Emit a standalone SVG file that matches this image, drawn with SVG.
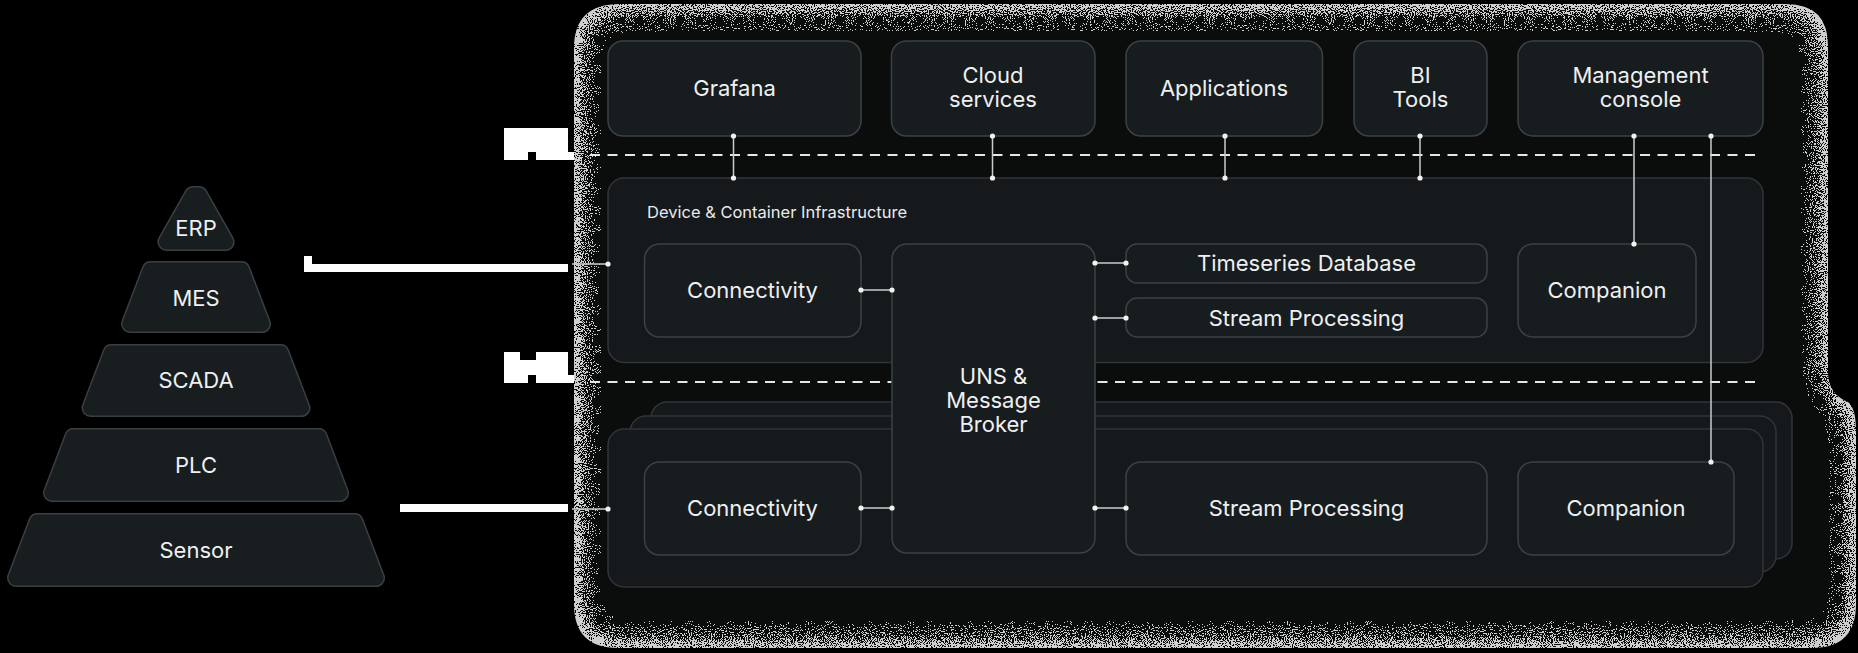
<svg xmlns="http://www.w3.org/2000/svg" width="1858" height="653" viewBox="0 0 1858 653">
<style>
.box{fill:#171c1f;stroke:#3c4144;stroke-width:1.5}
.panel{fill:#15191c;stroke:#30353a;stroke-width:1.5}
.t{font-family:Inter,"Noto Sans","Liberation Sans",sans-serif;font-size:22px;fill:#eef0f1;text-anchor:middle}
.lbl{font-family:Inter,"Noto Sans","Liberation Sans",sans-serif;font-size:16.5px;fill:#e8eaeb}
.conn{stroke:#c9cccd;stroke-width:1.5;fill:none}
.dot{fill:#f2f2f2}
.dash{stroke:#e6e6e6;stroke-width:2;stroke-dasharray:10 7.5;fill:none}
.pb{fill:#3b3f42;stroke:#3b3f42;stroke-width:18;stroke-linejoin:round}
.pf{fill:#181d20;stroke:#181d20;stroke-width:15;stroke-linejoin:round}
.white{fill:#ffffff}
</style>
<defs>
<path id="haloPath" d="M620 4 H1786 Q1828 4 1828 46 V372 Q1828 394 1848 402 Q1856 408 1856 432 V604 Q1856 648 1812 648 H618 Q574 648 574 604 V48 Q574 4 620 4 Z"/>
<filter id="grain" filterUnits="userSpaceOnUse" x="500" y="-80" width="1440" height="810" color-interpolation-filters="sRGB">
<feComponentTransfer in="SourceAlpha" result="out"><feFuncA type="table" tableValues="1 0"/></feComponentTransfer>
<feGaussianBlur in="out" stdDeviation="18" result="bo"/>
<feTurbulence type="fractalNoise" baseFrequency="0.95" numOctaves="1" seed="11" result="n"/>
<feColorMatrix in="n" type="matrix" values="0 0 0 0 0  0 0 0 0 0  0 0 0 0 0  1 0 0 0 0" result="na0"/>
<feComponentTransfer in="na0" result="na"><feFuncA type="linear" slope="3" intercept="-1"/></feComponentTransfer>
<feComposite in="na" in2="bo" operator="arithmetic" k1="0" k2="-0.5" k3="0.9" k4="0.45" result="s"/>
<feComponentTransfer in="s" result="th"><feFuncA type="discrete" tableValues="0 1"/></feComponentTransfer>
<feComposite in="th" in2="SourceAlpha" operator="in" result="th2"/>
<feFlood flood-color="#cfcfcf"/>
<feComposite in2="th2" operator="in" result="sp"/>
<feMerge><feMergeNode in="SourceGraphic"/><feMergeNode in="sp"/></feMerge>
</filter>
</defs>
<rect width="1858" height="653" fill="#000"/>

<!-- stray white blocks -->
<path class="white" d="M504 128 H568 V152 H577 V160 H536 V152 H528 V160 H504 Z"/>
<path class="white" d="M504 352 H520 V360 H536 V352 H568 V375 H577 V383 H536 V375 H528 V383 H504 Z"/>

<!-- halo -->
<g id="halo">
<use href="#haloPath" fill="#0b0c0c" filter="url(#grain)"/>
</g>

<!-- pyramid -->
<g id="erp">
<polygon class="pb" points="193,195 199,195 225.6,242 166.4,242"/>
<polygon class="pf" points="193,195 199,195 225.6,242 166.4,242"/>
<text class="t" x="196" y="236">ERP</text>
</g>
<g id="mes">
<polygon class="pb" points="150.6,270 241.4,270 262,324 130,324"/>
<polygon class="pf" points="150.6,270 241.4,270 262,324 130,324"/>
<text class="t" x="196" y="306">MES</text>
</g>
<g id="scada">
<polygon class="pb" points="111.5,353 280.5,353 301.5,408 90.5,408"/>
<polygon class="pf" points="111.5,353 280.5,353 301.5,408 90.5,408"/>
<text class="t" x="196" y="388">SCADA</text>
</g>
<g id="plc">
<polygon class="pb" points="73.3,437 318.7,437 340,493 52,493"/>
<polygon class="pf" points="73.3,437 318.7,437 340,493 52,493"/>
<text class="t" x="196" y="473">PLC</text>
</g>
<g id="sensor">
<polygon class="pb" points="37.3,522 354.7,522 376,578 16,578"/>
<polygon class="pf" points="37.3,522 354.7,522 376,578 16,578"/>
<text class="t" x="196" y="558">Sensor</text>
</g>

<!-- separators -->
<g id="separators">
<line class="dash" x1="590" y1="155" x2="1762" y2="155"/>
<line class="dash" x1="590" y1="382" x2="1762" y2="382"/>
</g>

<!-- top row -->
<g id="grafana"><rect class="box" x="608" y="41" width="253" height="95" rx="15"/><text class="t" x="734.5" y="96">Grafana</text></g>
<g id="cloud"><rect class="box" x="891.5" y="41" width="203.5" height="95" rx="15"/><text class="t" x="993" y="83">Cloud</text><text class="t" x="993" y="107">services</text></g>
<g id="applications"><rect class="box" x="1126" y="41" width="196.5" height="95" rx="15"/><text class="t" x="1224" y="96">Applications</text></g>
<g id="bitools"><rect class="box" x="1354" y="41" width="133" height="95" rx="15"/><text class="t" x="1420.5" y="83">BI</text><text class="t" x="1420.5" y="107">Tools</text></g>
<g id="management"><rect class="box" x="1518" y="41" width="245" height="95" rx="15"/><text class="t" x="1640.5" y="83">Management</text><text class="t" x="1640.5" y="107">console</text></g>

<!-- edge panel (upper) -->
<g id="device-infra">
<rect class="panel" x="608" y="178" width="1155" height="184.5" rx="16"/>
<text class="lbl" x="647" y="218">Device &amp; Container Infrastructure</text>
</g>
<g id="connectivity-1"><rect class="box" x="644.5" y="244" width="216.5" height="93" rx="15"/><text class="t" x="752.5" y="298">Connectivity</text></g>
<g id="tsdb"><rect class="box" x="1126" y="244" width="361" height="39" rx="11"/><text class="t" x="1306.5" y="271">Timeseries Database</text></g>
<g id="stream-1"><rect class="box" x="1126" y="298" width="361" height="39" rx="11"/><text class="t" x="1306.5" y="325.5">Stream Processing</text></g>
<g id="companion-1"><rect class="box" x="1518" y="244" width="178" height="93" rx="15"/><text class="t" x="1607" y="298">Companion</text></g>

<!-- stacked device panels (lower) -->
<g id="device-stack">
<rect class="panel" x="651" y="402" width="1141" height="157" rx="16"/>
<rect class="panel" x="630" y="416" width="1146" height="156" rx="16"/>
<rect class="panel" x="608" y="429" width="1155" height="158" rx="16"/>
</g>
<g id="connectivity-2"><rect class="box" x="644.5" y="462" width="216.5" height="93" rx="15"/><text class="t" x="752.5" y="516">Connectivity</text></g>
<g id="stream-2"><rect class="box" x="1126" y="462" width="361" height="93" rx="15"/><text class="t" x="1306.5" y="516">Stream Processing</text></g>
<g id="companion-2"><rect class="box" x="1518" y="462" width="216" height="93" rx="15"/><text class="t" x="1626" y="516">Companion</text></g>

<!-- broker -->
<g id="uns-broker"><rect class="box" x="892" y="244" width="203" height="309" rx="15"/><text class="t" x="993.5" y="384">UNS &amp;</text><text class="t" x="993.5" y="408">Message</text><text class="t" x="993.5" y="432">Broker</text></g>

<!-- connectors -->
<g id="connectors">
<path class="white" d="M304 256 H312 V264 H568 V272 H304 Z"/>
<rect class="white" x="400" y="504" width="168" height="8"/>
<path class="conn" d="M572 264 H608 M572 509 H608
M733.5 136 V178 M992.5 136 V178 M1225 136 V178 M1420 136 V178
M1634 136 V244 M1711 136 V462
M861 290 H892 M1095 263 H1126 M1095 318 H1126
M861 508 H892 M1095 508 H1126"/>
<g class="dot">
<circle cx="608" cy="264" r="2.6"/><circle cx="608" cy="509" r="2.6"/>
<circle cx="733.5" cy="136" r="2.6"/><circle cx="733.5" cy="178" r="2.6"/>
<circle cx="992.5" cy="136" r="2.6"/><circle cx="992.5" cy="178" r="2.6"/>
<circle cx="1225" cy="136" r="2.6"/><circle cx="1225" cy="178" r="2.6"/>
<circle cx="1420" cy="136" r="2.6"/><circle cx="1420" cy="178" r="2.6"/>
<circle cx="1634" cy="136" r="2.6"/><circle cx="1634" cy="244" r="2.6"/>
<circle cx="1711" cy="136" r="2.6"/><circle cx="1711" cy="462" r="2.6"/>
<circle cx="861" cy="290" r="2.6"/><circle cx="892" cy="290" r="2.6"/>
<circle cx="1095" cy="263" r="2.6"/><circle cx="1126" cy="263" r="2.6"/>
<circle cx="1095" cy="318" r="2.6"/><circle cx="1126" cy="318" r="2.6"/>
<circle cx="861" cy="508" r="2.6"/><circle cx="892" cy="508" r="2.6"/>
<circle cx="1095" cy="508" r="2.6"/><circle cx="1126" cy="508" r="2.6"/>
</g>
</g>
</svg>
